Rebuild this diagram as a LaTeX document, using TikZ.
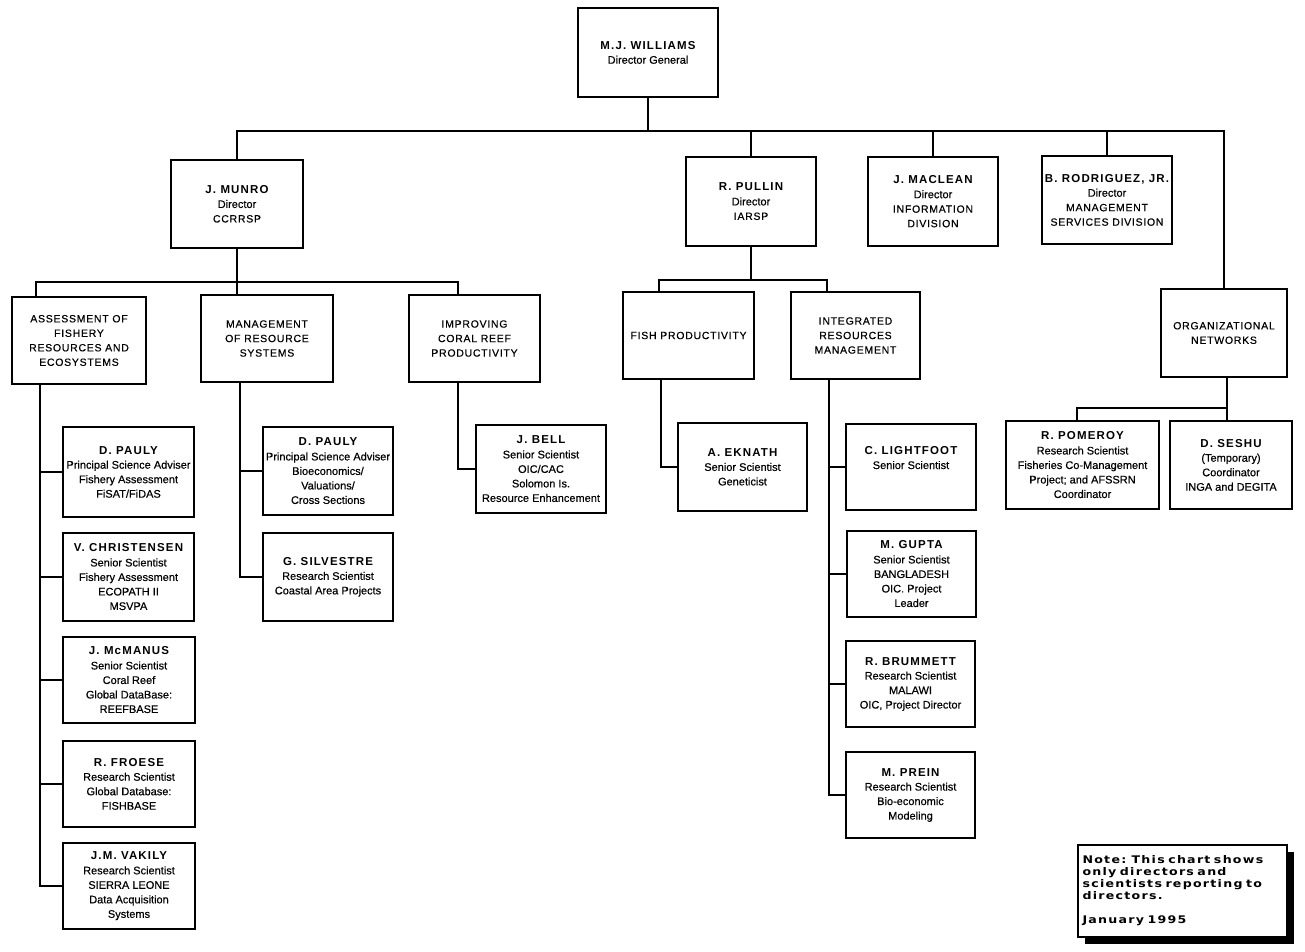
\documentclass[tikz,border=0pt]{standalone}
\usepackage{fontspec}
\setmainfont{Liberation Sans}[FakeBold=0.4]
\newfontfamily\namefont[LetterSpace=10]{Liberation Sans}
\newfontfamily\capfont[LetterSpace=7, FakeBold=0.4]{Liberation Sans}
\newfontfamily\notefont[LetterSpace=12, FakeStretch=1.2, WordSpace=1.6]{DejaVu Sans}
\usetikzlibrary{shadows}
\newcommand\nm[1]{{\namefont\bfseries\fontsize{11.5}{14.5}\selectfont #1}}
\newcommand\cp[1]{{\capfont\fontsize{10.5}{14.5}\selectfont #1}}
\newcommand\orgbx[6]{\node[orgbox, minimum width={#4-#2}, minimum height={#5-#3}] (#1) at ({(#2+#4)/2},{(#3+#5)/2}) {#6};}
\tikzset{
  orgbox/.style={draw, line width=2.4pt, inner sep=0pt, align=center, fill=white,
    font=\fontsize{11}{14.5}\selectfont},
  link/.style={line width=2.2pt, line cap=rect},
}
\begin{document}
\begin{tikzpicture}[x=1pt,y=-1pt]
\fill[white] (0,0) rectangle (1305,952);
\useasboundingbox (0,0) rectangle (1305,952);

% top level
\orgbx{wil}{578}{8}{718}{97}{\nm{M.J. WILLIAMS}\\Director General}
% directors
\orgbx{munro}{171}{160}{303}{248}{\nm{J. MUNRO}\\Director\\\cp{CCRRSP}}
\orgbx{pullin}{686}{157}{816}{246}{\nm{R. PULLIN}\\Director\\\cp{IARSP}}
\orgbx{maclean}{868}{157}{998}{246}{\nm{J. MACLEAN}\\Director\\\cp{INFORMATION}\\\cp{DIVISION}}
\orgbx{rodr}{1042}{156}{1172}{244}{\nm{B. RODRIGUEZ, JR.}\\Director\\\cp{MANAGEMENT}\\\cp{SERVICES DIVISION}}
% programs
\orgbx{assess}{12}{297}{146}{384}{\cp{ASSESSMENT OF}\\\cp{FISHERY}\\\cp{RESOURCES AND}\\\cp{ECOSYSTEMS}}
\orgbx{mgmt}{201}{295}{333}{382}{\cp{MANAGEMENT}\\\cp{OF RESOURCE}\\\cp{SYSTEMS}}
\orgbx{improv}{409}{295}{540}{382}{\cp{IMPROVING}\\\cp{CORAL REEF}\\\cp{PRODUCTIVITY}}
\orgbx{fish}{623}{292}{754}{379}{\cp{FISH PRODUCTIVITY}}
\orgbx{irm}{791}{292}{920}{379}{\cp{INTEGRATED}\\\cp{RESOURCES}\\\cp{MANAGEMENT}}
\orgbx{org}{1161}{289}{1287}{377}{\cp{ORGANIZATIONAL}\\\cp{NETWORKS}}
% scientists
\orgbx{pauly1}{63}{427}{194}{517}{\nm{D. PAULY}\\Principal Science Adviser\\Fishery Assessment\\FiSAT/FiDAS}
\orgbx{christ}{63}{533}{194}{621}{\nm{V. CHRISTENSEN}\\Senior Scientist\\Fishery Assessment\\ECOPATH II\\MSVPA}
\orgbx{mcmanus}{63}{637}{195}{723}{\nm{J. McMANUS}\\Senior Scientist\\Coral Reef\\Global DataBase:\\REEFBASE}
\orgbx{froese}{63}{741}{195}{827}{\nm{R. FROESE}\\Research Scientist\\Global Database:\\FISHBASE}
\orgbx{vakily}{63}{843}{195}{929}{\nm{J.M. VAKILY}\\Research Scientist\\SIERRA LEONE\\Data Acquisition\\Systems}
\orgbx{pauly2}{263}{427}{393}{515}{\nm{D. PAULY}\\Principal Science Adviser\\Bioeconomics/\\Valuations/\\Cross Sections}
\orgbx{silv}{263}{533}{393}{621}{\nm{G. SILVESTRE}\\Research Scientist\\Coastal Area Projects}
\orgbx{bell}{476}{425}{606}{513}{\nm{J. BELL}\\Senior Scientist\\OIC/CAC\\Solomon Is.\\Resource Enhancement}
\orgbx{eknath}{678}{423}{807}{511}{\nm{A. EKNATH}\\Senior Scientist\\Geneticist}
\orgbx{light}{846}{424}{976}{510}{\nm{C. LIGHTFOOT}\\Senior Scientist\\[4pt]}
\orgbx{gupta}{847}{531}{976}{617}{\nm{M. GUPTA}\\Senior Scientist\\BANGLADESH\\OIC. Project\\Leader}
\orgbx{brum}{846}{641}{975}{727}{\nm{R. BRUMMETT}\\Research Scientist\\MALAWI\\OIC, Project Director}
\orgbx{prein}{846}{752}{975}{838}{\nm{M. PREIN}\\Research Scientist\\Bio-economic\\Modeling}
\orgbx{pomeroy}{1006}{421}{1159}{509}{\nm{R. POMEROY}\\Research Scientist\\Fisheries Co-Management\\Project; and AFSSRN\\Coordinator}
\orgbx{seshu}{1170}{421}{1292}{509}{\nm{D. SESHU}\\(Temporary)\\Coordinator\\INGA and DEGITA}

% note
\node[draw, line width=2.4pt, fill=white, minimum width=209pt, minimum height=92pt,
  inner sep=0pt, text width=200pt, align=left,
  font=\notefont\bfseries\fontsize{10.5}{12}\selectfont,
  drop shadow={shadow xshift=7pt, shadow yshift=-7pt, fill=black, opacity=1}]
  (note) at (1182.5,891) {Note: This chart shows\\only directors and\\scientists reporting to\\directors.\\[12pt]January 1995};

% junction coordinates
\coordinate (bus) at (0,131);
\coordinate (br1) at (0,282);
\coordinate (br2) at (0,280);
\coordinate (br3) at (0,408);
\coordinate (aT) at ([xshift=-43pt]assess.north);
\coordinate (iT) at ([xshift=-16.5pt]improv.north);
\coordinate (aB) at ([xshift=-39pt]assess.south);
\coordinate (mB) at ([xshift=-27pt]mgmt.south);
\coordinate (iB) at ([xshift=-16.5pt]improv.south);
\coordinate (fT) at ([xshift=-29.5pt]fish.north);
\coordinate (rT) at ([xshift=-28.5pt]irm.north);
\coordinate (fB) at ([xshift=-27.5pt]fish.south);
\coordinate (rB) at ([xshift=-26.5pt]irm.south);
\coordinate (oB) at ([xshift=3pt]org.south);
\coordinate (pT) at ([xshift=-5.5pt]pomeroy.north);

% top bus
\draw[link] (wil.south) -- (wil.south |- bus);
\draw[link] (munro.north) -- (munro.north |- bus) -- (org.north |- bus) -- (org.north);
\draw[link] (pullin.north) -- (pullin.north |- bus);
\draw[link] (maclean.north) -- (maclean.north |- bus);
\draw[link] (rodr.north) -- (rodr.north |- bus);

% Munro branch
\draw[link] (munro.south) -- (munro.south |- mgmt.north);
\draw[link] (aT) -- (aT |- br1) -- (iT |- br1) -- (iT);
\draw[link] (aB) -- (aB |- vakily.west) -- (vakily.west);
\foreach \n in {pauly1,christ,mcmanus,froese}{\draw[link] (aB |- \n.west) -- (\n.west);}
\draw[link] (mB) -- (mB |- silv.west) -- (silv.west);
\draw[link] (mB |- pauly2.west) -- (pauly2.west);
\draw[link] (iB) -- (iB |- bell.west) -- (bell.west);

% Pullin branch
\draw[link] (pullin.south) -- (pullin.south |- br2);
\draw[link] (fT) -- (fT |- br2) -- (rT |- br2) -- (rT);
\draw[link] (fB) -- (fB |- eknath.west) -- (eknath.west);
\draw[link] (rB) -- (rB |- prein.west) -- (prein.west);
\foreach \n in {light,gupta,brum}{\draw[link] (rB |- \n.west) -- (\n.west);}

% networks
\draw[link] (oB) -- (oB |- seshu.north);
\draw[link] (oB |- br3) -- (pT |- br3) -- (pT);
\end{tikzpicture}
\end{document}
